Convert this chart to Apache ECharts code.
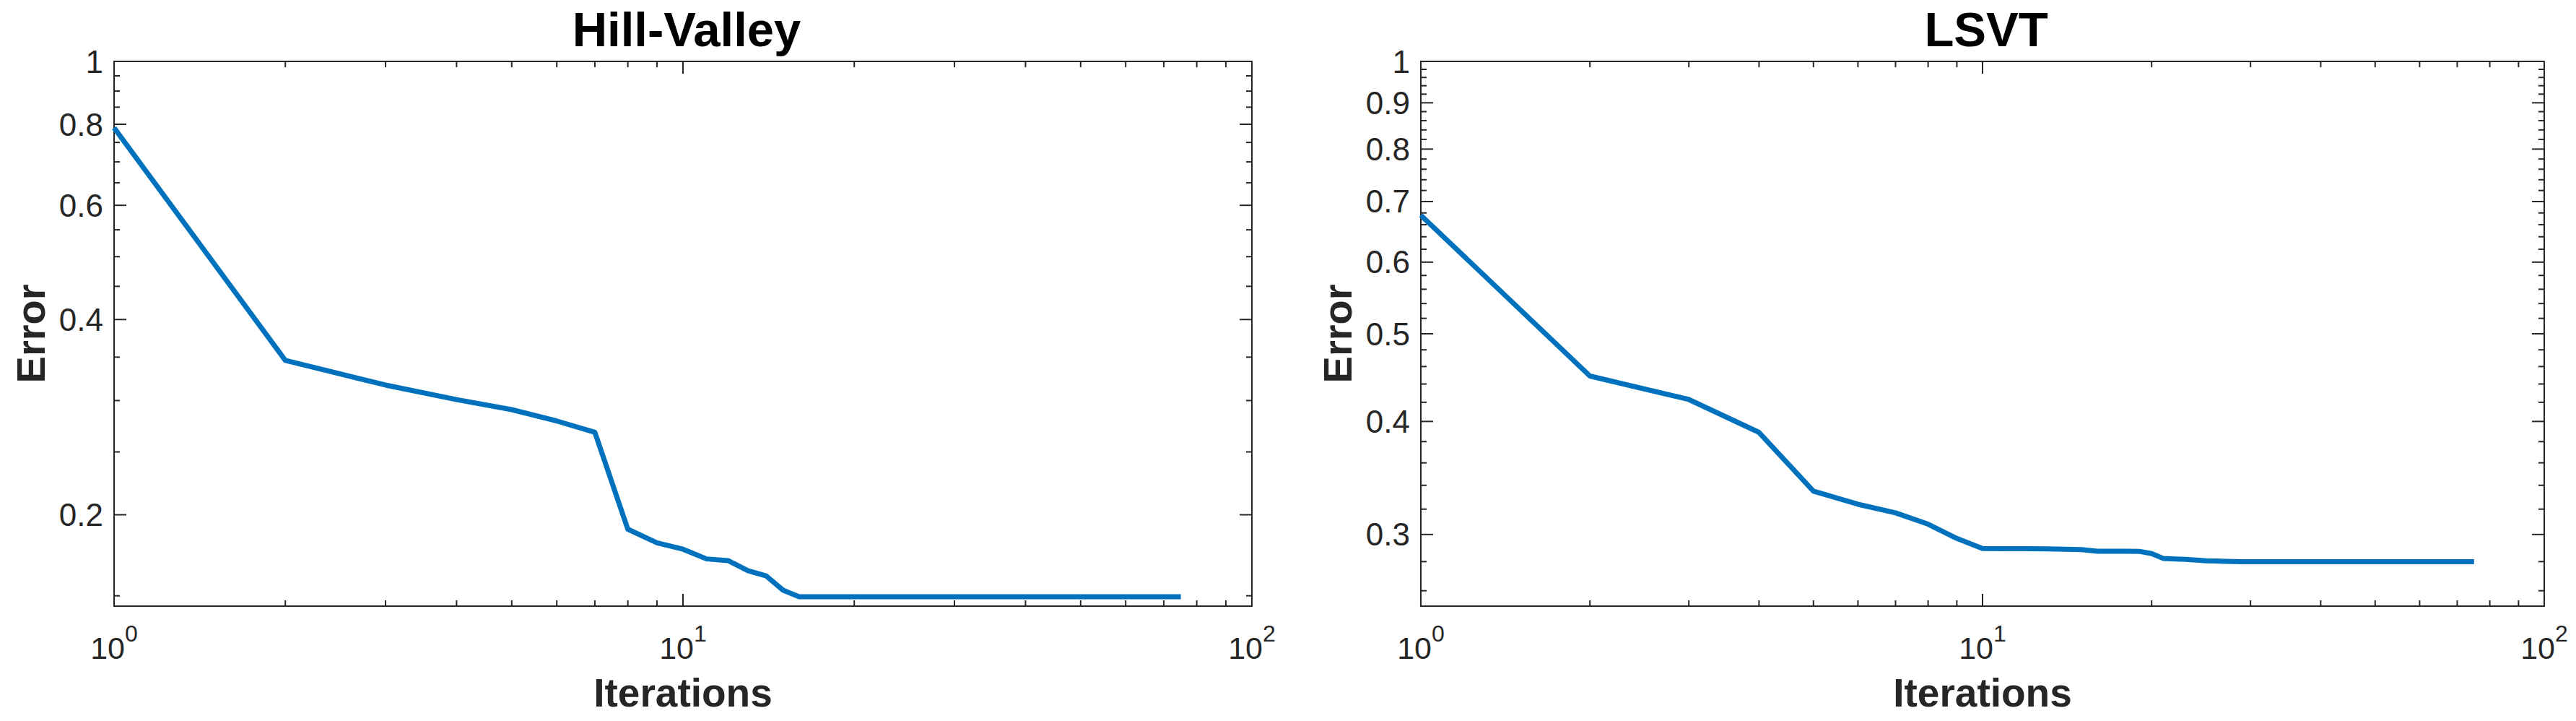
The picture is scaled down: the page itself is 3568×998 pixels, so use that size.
<!DOCTYPE html>
<html>
<head>
<meta charset="utf-8">
<script src="https://cdn.jsdelivr.net/npm/echarts@6/dist/echarts.min.js"></script>
<style>
html,body{margin:0;padding:0;background:#fff;}
#chart{width:3568px;height:998px;}
</style>
</head>
<body>
<div id="chart"></div>
<script>
// ---------------- data ----------------
const panelTitles = ['Hill-Valley', 'LSVT'];
const xAxisName = 'Iterations';
const yAxisName = 'Error';

const hvIter  = [1, 2, 3, 4, 5, 6, 7, 8, 9, 10, 11, 12, 13, 14, 15, 16, 75];
const hvError = [0.790, 0.346, 0.317, 0.301, 0.2905, 0.279, 0.268, 0.190, 0.181, 0.177, 0.171, 0.170, 0.164, 0.161, 0.153, 0.1495, 0.1495];

const lsvtIter  = [1, 2, 3, 4, 5, 6, 7, 8, 9, 10, 11, 12, 13, 14, 15, 16, 17, 18, 19, 20, 21, 22, 23, 24, 25, 26, 27, 28, 29, 75];
const lsvtError = [0.676, 0.449, 0.423, 0.389, 0.335, 0.324, 0.317, 0.308, 0.297, 0.2895, 0.2894, 0.2893, 0.2892, 0.2890, 0.2887, 0.2875, 0.2875, 0.2875, 0.2874, 0.2858, 0.2822, 0.2819, 0.2816, 0.2811, 0.2806, 0.2804, 0.2802, 0.2800, 0.2799, 0.2799];

const xRange = [1, 100];
const xTickLabels = ['10^0', '10^1', '10^2'];
const xMajorTicks = [1, 10, 100];
const xMinorTicks = [2, 3, 4, 5, 6, 7, 8, 9, 20, 30, 40, 50, 60, 70, 80, 90];

const hvYRange = [0.1446, 1];
const hvYMajor = [0.2, 0.4, 0.6, 0.8, 1];
const hvYLabels = ['0.2', '0.4', '0.6', '0.8', '1'];
const hvYMinor = [0.15, 0.25, 0.3, 0.35, 0.45, 0.5, 0.55, 0.65, 0.7, 0.75, 0.85, 0.9, 0.95];

const lsvtYRange = [0.25, 1];
const lsvtYMajor = [0.3, 0.4, 0.5, 0.6, 0.7, 0.8, 0.9, 1];
const lsvtYLabels = ['0.3', '0.4', '0.5', '0.6', '0.7', '0.8', '0.9', '1'];
const lsvtYMinor = [0.26, 0.28, 0.32, 0.34, 0.36, 0.38, 0.42, 0.44, 0.46, 0.48, 0.52, 0.54, 0.56, 0.58,
                    0.62, 0.64, 0.66, 0.68, 0.72, 0.74, 0.76, 0.78, 0.82, 0.84, 0.86, 0.88, 0.92, 0.94, 0.96, 0.98];

// ---------------- style ----------------
const AX = '#262626';
const LINE = '#0072BD';
const FONT = "'Liberation Sans', Arial, Helvetica, sans-serif";
const MAJOR_LEN = 17, MINOR_LEN = 8;

const panels = [
  { title: panelTitles[0], iter: hvIter, err: hvError, yRange: hvYRange, yMajor: hvYMajor, yLabels: hvYLabels, yMinor: hvYMinor,
    grid: { left: 158, top: 85, width: 1576, height: 754 } },
  { title: panelTitles[1], iter: lsvtIter, err: lsvtError, yRange: lsvtYRange, yMajor: lsvtYMajor, yLabels: lsvtYLabels, yMinor: lsvtYMinor,
    grid: { left: 1968, top: 85, width: 1556, height: 754 } }
];

function xLabelFormatter(v) {
  let best = 0, bd = Infinity;
  xMajorTicks.forEach((t, i) => { const d = Math.abs(v - t) / t; if (d < bd) { bd = d; best = i; } });
  const parts = xTickLabels[best].split('^');
  return '{n|' + parts[0] + '}{s|' + parts[1] + '}';
}

function yTickRenderer(len, labels, xRef) {
  return function (params, api) {
    const cs = params.coordSys;
    const y = api.coord([xRef, api.value(1)])[1];
    const children = [
      { type: 'line', shape: { x1: cs.x, y1: y, x2: cs.x + len, y2: y }, style: { stroke: AX, lineWidth: 2 } },
      { type: 'line', shape: { x1: cs.x + cs.width, y1: y, x2: cs.x + cs.width - len, y2: y }, style: { stroke: AX, lineWidth: 2 } }
    ];
    if (labels) {
      children.push({ type: 'text', x: cs.x - 15, y: y,
        style: { text: labels[params.dataIndex], fill: AX, font: '44px ' + FONT, align: 'right', verticalAlign: 'middle' } });
    }
    return { type: 'group', children: children };
  };
}

function xMinorRenderer(yRef) {
  return function (params, api) {
    const cs = params.coordSys;
    const x = api.coord([api.value(0), yRef])[0];
    const b = cs.y + cs.height, t = cs.y;
    return { type: 'group', children: [
      { type: 'line', shape: { x1: x, y1: b, x2: x, y2: b - MINOR_LEN }, style: { stroke: AX, lineWidth: 2 } },
      { type: 'line', shape: { x1: x, y1: t, x2: x, y2: t + MINOR_LEN }, style: { stroke: AX, lineWidth: 2 } }
    ] };
  };
}

const option = { animation: false, backgroundColor: '#ffffff', title: [], grid: [], xAxis: [], yAxis: [], series: [] };

panels.forEach((p, g) => {
  const axLine = { show: true, onZero: false, lineStyle: { color: AX, width: 2 } };
  option.grid.push(Object.assign({ containLabel: false, outerBoundsMode: 'none' }, p.grid));
  option.title.push({
    text: p.title, left: p.grid.left + p.grid.width / 2, top: 2, textAlign: 'center',
    textStyle: { fontFamily: FONT, fontWeight: 'bold', fontSize: 67, color: '#000000' }
  });
  option.xAxis.push({
    type: 'log', logBase: 10, gridIndex: g, position: 'bottom', min: xRange[0], max: xRange[1],
    axisLine: axLine,
    axisTick: { show: true, inside: true, length: MAJOR_LEN, lineStyle: { color: AX, width: 2 } },
    minorTick: { show: false }, splitLine: { show: false }, minorSplitLine: { show: false },
    axisLabel: {
      show: true, margin: 22, formatter: xLabelFormatter,
      rich: {
        n: { fontFamily: FONT, fontSize: 43, lineHeight: 72, color: AX },
        s: { fontFamily: FONT, fontSize: 32, lineHeight: 32, verticalAlign: 'top', color: AX }
      }
    },
    name: xAxisName, nameLocation: 'middle', nameGap: 92, nameMoveOverlap: false,
    nameTextStyle: { fontFamily: FONT, fontWeight: 'bold', fontSize: 55, color: AX }
  });
  option.xAxis.push({
    type: 'log', logBase: 10, gridIndex: g, position: 'top', min: xRange[0], max: xRange[1],
    axisLine: axLine,
    axisTick: { show: true, inside: true, length: MAJOR_LEN, lineStyle: { color: AX, width: 2 } },
    axisLabel: { show: false }, splitLine: { show: false }
  });
  option.yAxis.push({
    type: 'log', logBase: 10, gridIndex: g, position: 'left', min: p.yRange[0], max: p.yRange[1],
    axisLine: axLine, axisTick: { show: false }, axisLabel: { show: false }, splitLine: { show: false },
    name: yAxisName, nameLocation: 'middle', nameRotate: 90, nameGap: 88, nameMoveOverlap: false,
    nameTextStyle: { fontFamily: FONT, fontWeight: 'bold', fontSize: 56, color: AX }
  });
  option.yAxis.push({
    type: 'log', logBase: 10, gridIndex: g, position: 'right', min: p.yRange[0], max: p.yRange[1],
    axisLine: axLine, axisTick: { show: false }, axisLabel: { show: false }, splitLine: { show: false }
  });

  const xi = 2 * g, yi = 2 * g;
  option.series.push({
    type: 'custom', xAxisIndex: xi, yAxisIndex: yi, silent: true, z: 3, clip: false,
    encode: { x: 0, y: 1 },
    data: p.yMajor.map(v => [xRange[0], v]),
    renderItem: yTickRenderer(MAJOR_LEN, p.yLabels, xRange[0])
  });
  option.series.push({
    type: 'custom', xAxisIndex: xi, yAxisIndex: yi, silent: true, z: 3, clip: false,
    encode: { x: 0, y: 1 },
    data: p.yMinor.map(v => [xRange[0], v]),
    renderItem: yTickRenderer(MINOR_LEN, null, xRange[0])
  });
  option.series.push({
    type: 'custom', xAxisIndex: xi, yAxisIndex: yi, silent: true, z: 3, clip: false,
    encode: { x: 0, y: 1 },
    data: xMinorTicks.map(v => [v, p.yRange[1]]),
    renderItem: xMinorRenderer(p.yRange[1])
  });
  option.series.push({
    type: 'line', xAxisIndex: xi, yAxisIndex: yi, silent: true, z: 5, clip: false,
    data: p.iter.map((x, i) => [x, p.err[i]]),
    showSymbol: false, symbol: 'none',
    lineStyle: { color: LINE, width: 7, join: 'round', cap: 'butt' }
  });
});

const chart = echarts.init(document.getElementById('chart'), null, { renderer: 'svg' });
chart.setOption(option);
</script>
</body>
</html>
